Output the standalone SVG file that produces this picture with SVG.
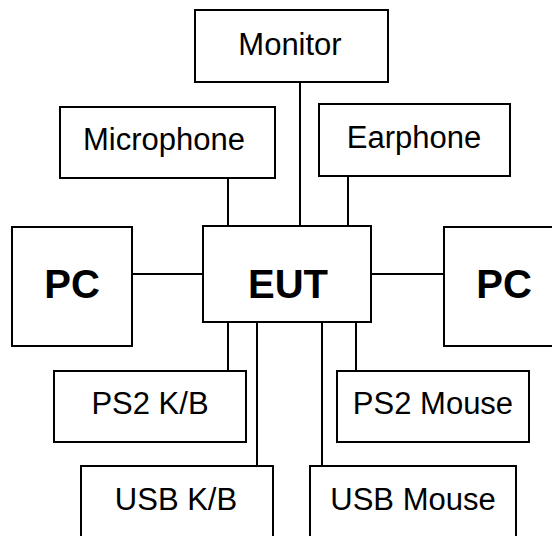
<svg xmlns="http://www.w3.org/2000/svg" width="552" height="536" viewBox="0 0 552 536">
<style>
.box{fill:#fff;stroke:#000;stroke-width:2}
.t{font-family:"Liberation Sans",Arial,sans-serif;font-size:31px;fill:#000;text-anchor:middle}
.b{font-family:"Liberation Sans",Arial,sans-serif;font-size:40px;font-weight:bold;fill:#000;text-anchor:middle}
.c{stroke:#000;stroke-width:2;fill:none}
</style>
<rect width="552" height="536" fill="#fff"/>
<g id="connectors">
<line class="c" x1="300" y1="82" x2="300" y2="226"/>
<line class="c" x1="228" y1="178" x2="228" y2="226"/>
<line class="c" x1="348" y1="176" x2="348" y2="226"/>
<line class="c" x1="132" y1="274" x2="203" y2="274"/>
<line class="c" x1="371" y1="274" x2="444" y2="274"/>
<line class="c" x1="228" y1="322" x2="228" y2="371"/>
<line class="c" x1="356" y1="322" x2="356" y2="371"/>
<line class="c" x1="257" y1="322" x2="257" y2="467"/>
<line class="c" x1="322" y1="319" x2="322" y2="467"/>
</g>
<g id="monitor"><rect class="box" x="195" y="10" width="193" height="72"/><text class="t" x="290" y="55">Monitor</text></g>
<g id="microphone"><rect class="box" x="60" y="107" width="215" height="71"/><text class="t" x="164" y="150">Microphone</text></g>
<g id="earphone"><rect class="box" x="319" y="104" width="191" height="72"/><text class="t" x="414" y="148">Earphone</text></g>
<g id="pc-left"><rect class="box" x="12" y="227" width="120" height="119"/><text class="b" x="72" y="298">PC</text></g>
<g id="eut"><rect class="box" x="203" y="226" width="168" height="96"/><text class="b" x="288" y="298" font-size="38">EUT</text></g>
<g id="pc-right"><rect class="box" x="444" y="227" width="120" height="119"/><text class="b" x="504" y="298">PC</text></g>
<g id="ps2-kb"><rect class="box" x="54" y="371" width="192" height="71"/><text class="t" x="150" y="414">PS2 K/B</text></g>
<g id="ps2-mouse"><rect class="box" x="337" y="371" width="192" height="71"/><text class="t" x="433" y="414">PS2 Mouse</text></g>
<g id="usb-kb"><rect class="box" x="81" y="466" width="192" height="80"/><text class="t" x="176" y="510">USB K/B</text></g>
<g id="usb-mouse"><rect class="box" x="310" y="466" width="206" height="80"/><text class="t" x="413" y="510">USB Mouse</text></g>
</svg>
